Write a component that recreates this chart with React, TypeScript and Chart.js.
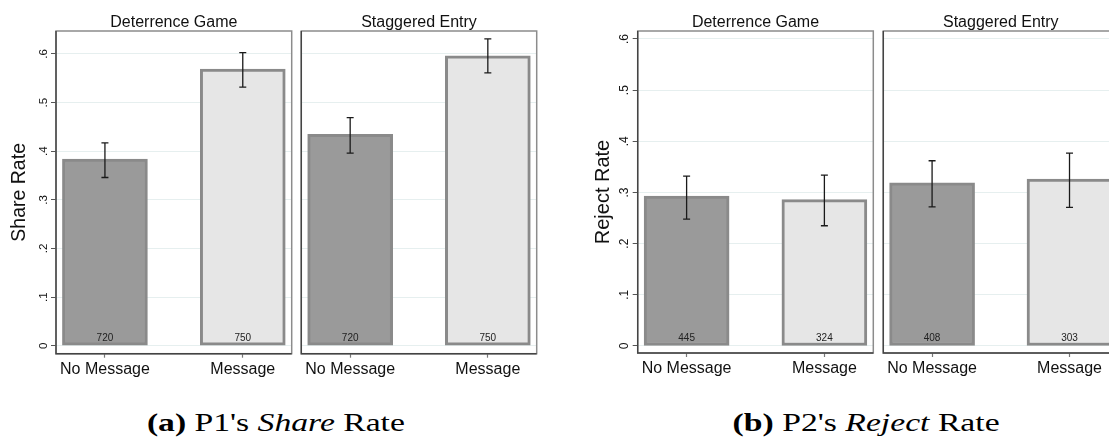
import React, { useEffect, useLayoutEffect, useRef } from "react";
import { Chart, registerables } from "chart.js";

Chart.register(...registerables);

// ---------------- data ----------------
const categories = ["No Message", "Message"];
const yTickValues = [0, 0.1, 0.2, 0.3, 0.4, 0.5, 0.6];

const shareDetMean = [0.384, 0.569];
const shareDetLow = [0.346, 0.532];
const shareDetHigh = [0.417, 0.603];
const shareDetN = [720, 750];

const shareStagMean = [0.435, 0.596];
const shareStagLow = [0.396, 0.561];
const shareStagHigh = [0.469, 0.631];
const shareStagN = [720, 750];

const rejectDetMean = [0.293, 0.286];
const rejectDetLow = [0.248, 0.235];
const rejectDetHigh = [0.332, 0.334];
const rejectDetN = [445, 324];

const rejectStagMean = [0.319, 0.326];
const rejectStagLow = [0.272, 0.271];
const rejectStagHigh = [0.362, 0.377];
const rejectStagN = [408, 303];

const panelTitles = ["Deterrence Game", "Staggered Entry"];
const yTitles = ["Share Rate", "Reject Rate"];

// ---------------- styling / layout ----------------
const FONT = '"Liberation Sans", Arial, Helvetica, sans-serif';
const CANVAS_H = 400;

type Panel = {
  title: string;
  mean: number[];
  low: number[];
  high: number[];
  n: number[];
  left: number;
  width: number;
  padL: number;
  padR: number;
  yAxisW: number;
  bottom: number;
  yMin: number;
  yMax: number;
  showY: boolean;
  yTitle?: string;
  yTitleX?: number;
  yTitleSize?: number;
  tickX?: number;
  tickSize?: number;
};

const panels: Panel[] = [
  {
    title: panelTitles[0], mean: shareDetMean, low: shareDetLow, high: shareDetHigh, n: shareDetN,
    left: 0, width: 296, padL: 0, padR: 4.3, yAxisW: 56, bottom: 353.7,
    yMin: -0.01645, yMax: 0.6473, showY: true,
    yTitle: yTitles[0], yTitleX: 24.5, yTitleSize: 19.5, tickX: 46.5, tickSize: 11.5,
  },
  {
    title: panelTitles[1], mean: shareStagMean, low: shareStagLow, high: shareStagHigh, n: shareStagN,
    left: 296, width: 245, padL: 5.3, padR: 4.3, yAxisW: 0, bottom: 353.7,
    yMin: -0.01645, yMax: 0.6473, showY: false,
  },
  {
    title: panelTitles[0], mean: rejectDetMean, low: rejectDetLow, high: rejectDetHigh, n: rejectDetN,
    left: 541, width: 337, padL: 0, padR: 4.7, yAxisW: 96.7, bottom: 353,
    yMin: -0.0137, yMax: 0.6156, showY: true,
    yTitle: yTitles[1], yTitleX: 67.5, yTitleSize: 20, tickX: 87.3, tickSize: 12,
  },
  {
    title: panelTitles[1], mean: rejectStagMean, low: rejectStagLow, high: rejectStagHigh, n: rejectStagN,
    left: 878, width: 245, padL: 5.3, padR: 4.7, yAxisW: 0, bottom: 353,
    yMin: -0.0137, yMax: 0.6156, showY: false,
  },
];

function fmtTick(v: number): string {
  if (Math.abs(v) < 1e-9) return "0";
  return "." + Math.round(v * 10);
}

function decorPlugin(p: Panel) {
  return {
    id: "panelDecor",
    afterDatasetsDraw(chart: any) {
      const { ctx, chartArea: a, scales } = chart;
      const xs = scales.x;
      const ys = scales.y;
      ctx.save();
      // error bars + N labels
      p.mean.forEach((_, i) => {
        const x = xs.getPixelForValue(i);
        const y1 = ys.getPixelForValue(p.low[i]);
        const y2 = ys.getPixelForValue(p.high[i]);
        ctx.strokeStyle = "#1a1a1a";
        ctx.lineWidth = 1.3;
        ctx.beginPath();
        ctx.moveTo(x, y1);
        ctx.lineTo(x, y2);
        ctx.moveTo(x - 3.5, y1);
        ctx.lineTo(x + 3.5, y1);
        ctx.moveTo(x - 3.5, y2);
        ctx.lineTo(x + 3.5, y2);
        ctx.stroke();
        ctx.fillStyle = "#222";
        ctx.font = `10px ${FONT}`;
        ctx.textAlign = "center";
        ctx.textBaseline = "middle";
        ctx.fillText(String(p.n[i]), x, ys.getPixelForValue(0) - 7.5);
      });
      // frame
      ctx.strokeStyle = "#8c8c8c";
      ctx.lineWidth = 1.5;
      ctx.strokeRect(a.left, a.top, a.right - a.left, a.bottom - a.top);
      ctx.strokeStyle = "#444";
      ctx.lineWidth = 1.4;
      ctx.beginPath();
      ctx.moveTo(a.left, a.top);
      ctx.lineTo(a.left, a.bottom);
      ctx.lineTo(a.right, a.bottom);
      ctx.stroke();
      // panel title
      ctx.fillStyle = "#111";
      ctx.font = `16px ${FONT}`;
      ctx.textAlign = "center";
      ctx.textBaseline = "alphabetic";
      ctx.fillText(p.title, (a.left + a.right) / 2, 26.7);
      // y tick labels and title
      if (p.showY) {
        ctx.font = `${p.tickSize}px ${FONT}`;
        ys.ticks.forEach((t: any) => {
          const y = ys.getPixelForValue(t.value);
          ctx.save();
          ctx.translate(p.tickX, y);
          ctx.rotate(-Math.PI / 2);
          ctx.textAlign = "center";
          ctx.textBaseline = "alphabetic";
          ctx.fillText(fmtTick(t.value), 0, 0);
          ctx.restore();
        });
        ctx.save();
        ctx.translate(p.yTitleX, (a.top + a.bottom) / 2);
        ctx.rotate(-Math.PI / 2);
        ctx.font = `${p.yTitleSize}px ${FONT}`;
        ctx.textAlign = "center";
        ctx.textBaseline = "alphabetic";
        ctx.fillText(p.yTitle, 0, 0);
        ctx.restore();
      }
      ctx.restore();
    },
  };
}

function PanelChart({ p }: { p: Panel }) {
  const ref = useRef<HTMLCanvasElement>(null);
  useEffect(() => {
    const canvas = ref.current;
    if (!canvas) return;
    const chart = new Chart(canvas, {
      type: "bar",
      data: {
        datasets: [
          {
            data: p.mean.map((v, i) => ({ x: i, y: v })),
            backgroundColor: ["#9a9a9a", "#e6e6e6"],
            borderColor: "#8a8a8a",
            borderWidth: 3,
            borderSkipped: false,
            barThickness: 85,
          } as any,
        ],
      },
      options: {
        responsive: false,
        animation: false,
        events: [],
        layout: { padding: { left: p.padL, right: p.padR, top: 31, bottom: 0 } },
        plugins: {
          legend: { display: false },
          tooltip: { enabled: false },
          title: { display: false },
        },
        scales: {
          x: {
            type: "linear",
            offset: false,
            min: -0.355,
            max: 1.355,
            afterBuildTicks: (s: any) => {
              s.ticks = categories.map((_, i) => ({ value: i }));
            },
            afterFit: (s: any) => {
              s.height = CANVAS_H - p.bottom;
            },
            ticks: {
              callback: (v: any) => categories[v] ?? "",
              font: { family: FONT, size: 16 },
              color: "#111",
              padding: 2,
              maxRotation: 0,
              minRotation: 0,
              autoSkip: false,
            },
            grid: {
              display: true,
              offset: false,
              drawOnChartArea: false,
              drawTicks: true,
              tickLength: 4,
              tickColor: "#777",
              tickWidth: 1.2,
            },
            border: { display: false },
          },
          y: {
            type: "linear",
            min: p.yMin,
            max: p.yMax,
            afterBuildTicks: (s: any) => {
              s.ticks = yTickValues.map((v) => ({ value: v }));
            },
            afterFit: (s: any) => {
              s.width = p.yAxisW;
            },
            ticks: { display: false },
            grid: {
              color: "#e6efef",
              lineWidth: 1,
              drawTicks: p.showY,
              tickLength: 5,
              tickColor: "#555",
            },
            border: { display: false },
          },
        },
      } as any,
      plugins: [decorPlugin(p) as any],
    });
    return () => chart.destroy();
  }, [p]);
  return (
    <canvas
      ref={ref}
      width={p.width}
      height={CANVAS_H}
      style={{ position: "absolute", left: p.left, top: 0, width: p.width, height: CANVAS_H }}
    />
  );
}

function Caption({ center, target, children }: { center: number; target: number; children: any }) {
  const ref = useRef<HTMLSpanElement>(null);
  useLayoutEffect(() => {
    const el = ref.current;
    if (!el) return;
    const w = el.getBoundingClientRect().width;
    if (w > 0) el.style.transform = `scaleX(${target / w})`;
  }, [target]);
  return (
    <div
      style={{
        position: "absolute",
        left: center - 250,
        width: 500,
        top: 410,
        textAlign: "center",
      }}
    >
      <span
        ref={ref}
        style={{
          display: "inline-block",
          transformOrigin: "center",
          fontFamily: '"Liberation Serif", "Times New Roman", serif',
          fontSize: 25,
          lineHeight: "25px",
          color: "#000",
          whiteSpace: "nowrap",
        }}
      >
        {children}
      </span>
    </div>
  );
}

export default function App() {
  return (
    <div
      style={{
        position: "fixed",
        left: 0,
        top: 0,
        width: 1109,
        height: 447,
        overflow: "hidden",
        background: "#fff",
      }}
    >
      {panels.map((p, i) => (
        <PanelChart key={i} p={p} />
      ))}
      <Caption center={276} target={258}>
        <b>(a)</b> P1's <i>Share</i> Rate
      </Caption>
      <Caption center={866.5} target={267}>
        <b>(b)</b> P2's <i>Reject</i> Rate
      </Caption>
    </div>
  );
}
